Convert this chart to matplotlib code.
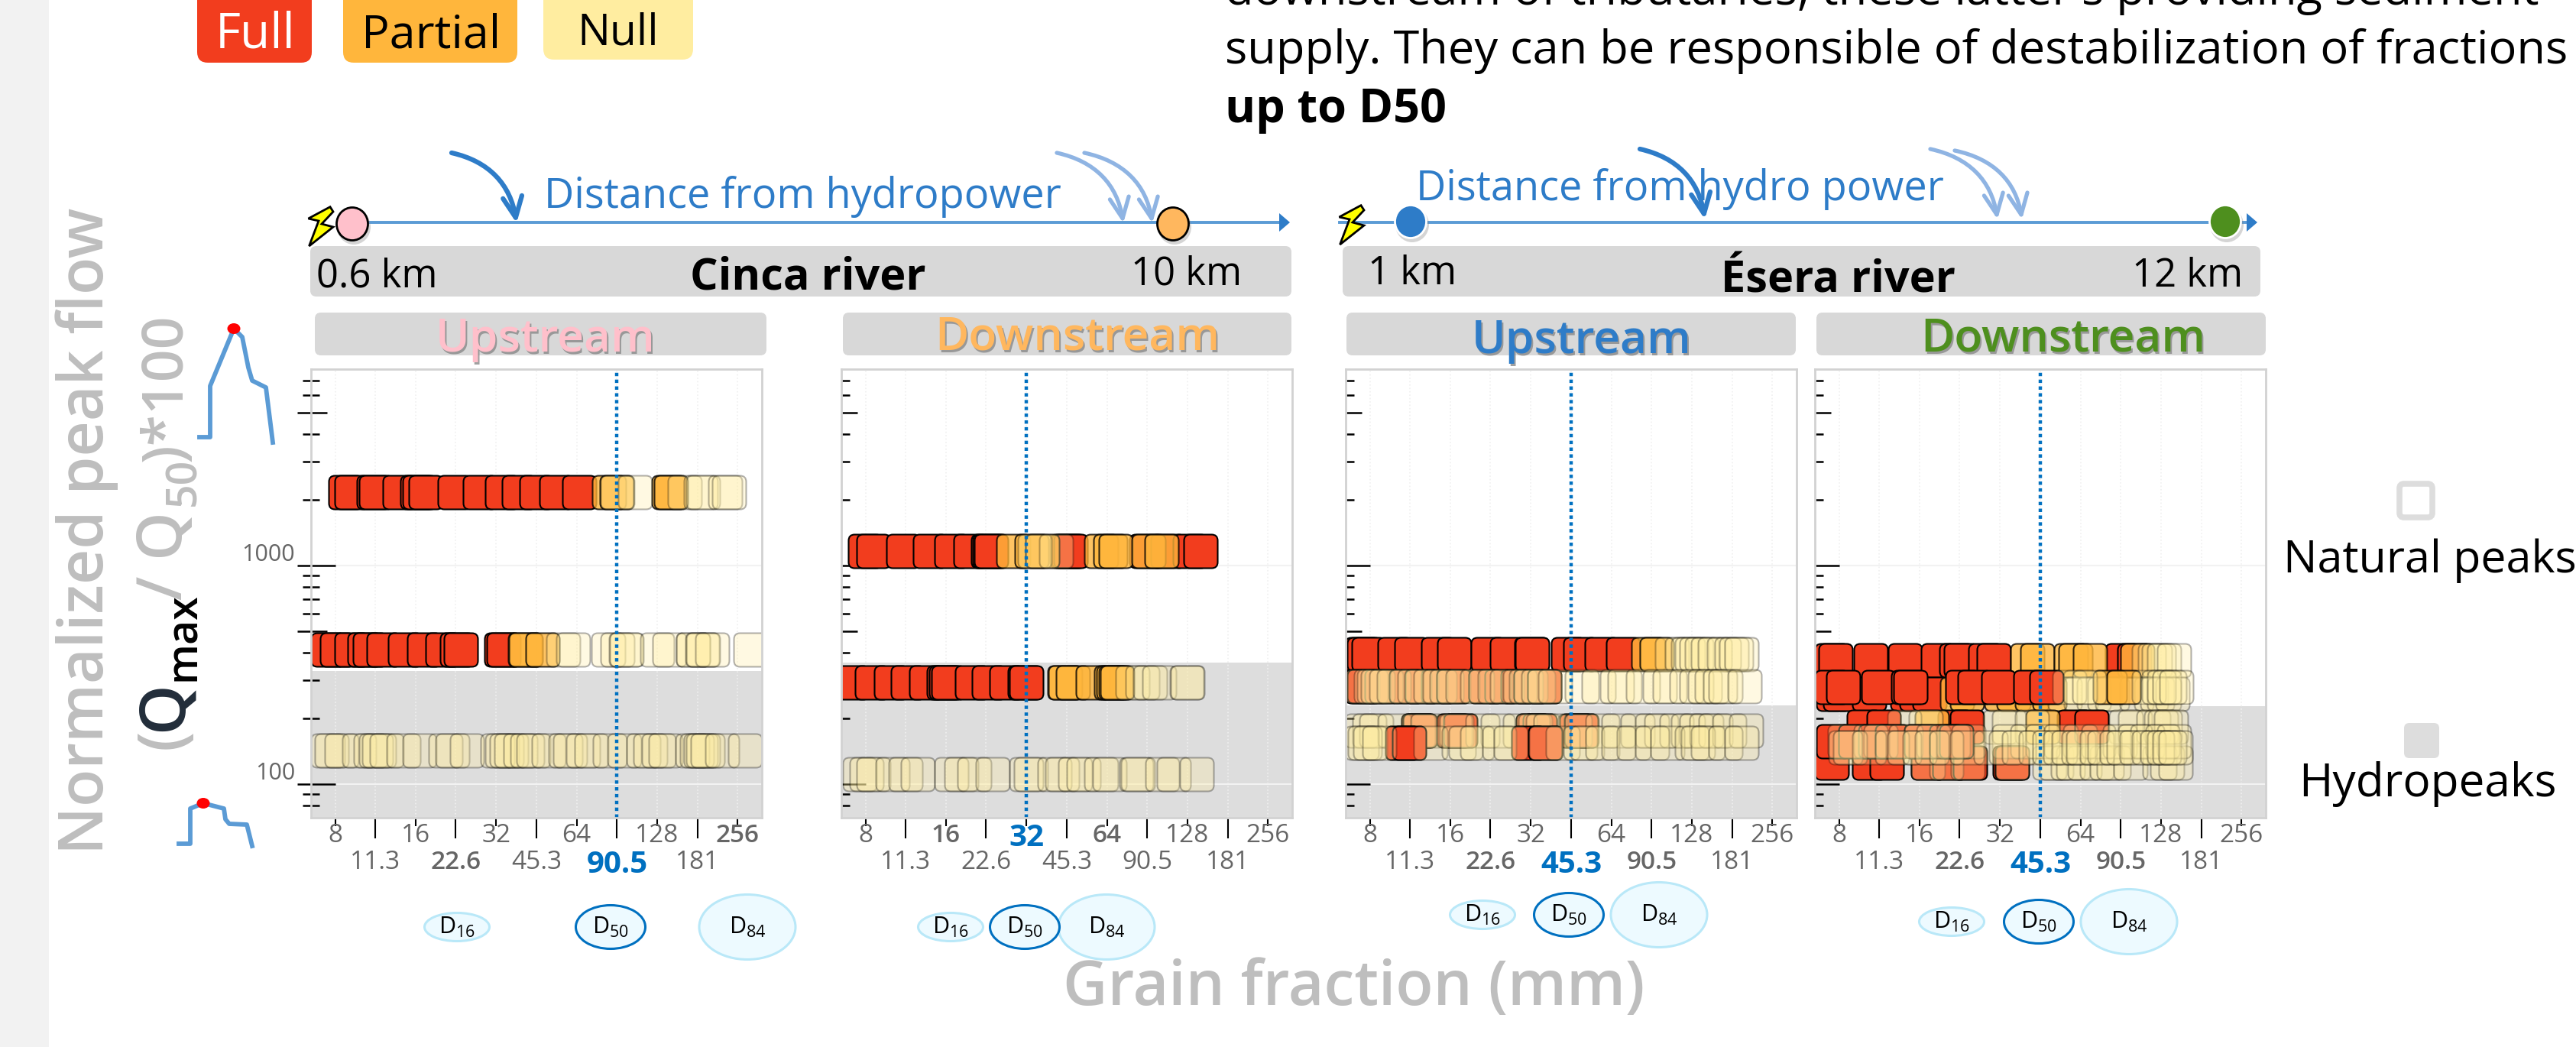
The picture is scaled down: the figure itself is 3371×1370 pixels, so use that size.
import numpy as np
import matplotlib
matplotlib.use("Agg")
import matplotlib.pyplot as plt
from matplotlib.path import Path
from matplotlib.patches import FancyBboxPatch, Ellipse, Polygon, FancyArrowPatch, Rectangle

plt.rcParams['font.family'] = ['Open Sans', 'DejaVu Sans']
plt.rcParams['mathtext.default'] = 'regular'

# --- data: x is log2(grain size in mm), y is normalized peak flow ---
major_labels = ['8', '16', '32', '64', '128', '256']
half_labels = ['11.3', '22.6', '45.3', '90.5', '181']
y_minor = [80, 90, 200, 300, 400, 600, 700, 800, 900, 2000, 3000, 4000, 6000, 7000]
y_long = [500, 5000]
y_decade = [100, 1000]

# rows are listed in drawing order
cinca_up_y = [2170, 414, 142]
cinca_up_full = [
    [3.13, 3.20, 3.48, 3.51, 3.80, 4.02, 4.05, 4.12, 4.48, 4.80, 5.07, 5.28, 5.50, 5.75, 6.03],
    [2.91, 3.02, 3.20, 3.36, 3.43, 3.60, 3.87, 4.10, 4.33, 4.51, 4.56, 5.06, 5.09],
    [],
]
cinca_up_partial = [
    [6.40, 6.50, 7.14, 7.17],
    [5.36, 5.37, 5.58],
    [],
]
cinca_up_null = [
    [6.51, 6.72, 7.34, 7.54, 7.57, 7.84, 7.89],
    [5.83, 5.96, 6.39, 6.51, 6.61, 6.62, 7.00, 7.15, 7.45, 7.45, 7.56, 7.57, 7.68, 8.16],
    [2.91, 2.96, 3.08, 3.30, 3.44, 3.51, 3.54, 3.64, 3.85, 4.05, 4.37, 4.46, 4.64, 5.02,
     5.07, 5.13, 5.19, 5.30, 5.39, 5.46, 5.65, 5.86, 5.92, 6.08, 6.18, 6.41, 6.59, 6.83, 6.91,
     7.02, 7.10, 7.44, 7.49, 7.54, 7.57, 7.63, 7.81, 8.09],
]

cinca_down_y = [1168, 292, 111]
cinca_down_full = [
    [2.99, 3.10, 3.47, 3.80, 4.07, 4.30, 4.52, 4.54, 4.56, 5.50, 5.52, 5.55, 6.49, 6.75, 7.03, 7.16],
    [2.83, 3.08, 3.32, 3.53, 3.75, 3.97, 4.00, 4.03, 4.32, 4.53, 4.75, 4.98, 5.00],
    [],
]
cinca_down_partial = [
    [4.84, 5.06, 5.20, 5.93, 6.04, 6.11, 6.52, 6.68],
    [5.47, 5.48, 5.58, 5.82, 6.05, 6.08, 6.11, 6.13],
    [],
]
cinca_down_null = [
    [5.10, 5.37],
    [6.32, 6.44, 6.53, 6.65, 6.99, 7.00],
    [2.93, 3.01, 3.10, 3.34, 3.50, 3.65, 4.07, 4.19, 4.35, 4.58, 5.00, 5.05, 5.35, 5.44,
     5.60, 5.71, 5.93, 6.03, 6.36, 6.38, 6.69, 6.83, 7.11],
]

esera_up_y = [393, 280, 176, 155]
esera_up_full = [
    [2.90, 2.93, 2.98, 3.31, 3.52, 3.85, 4.05, 4.47, 4.70, 5.01, 5.02, 5.46, 5.61, 5.88, 6.15],
    [2.90, 2.93, 3.15, 3.45, 3.65, 3.85, 4.04, 4.44, 4.64, 4.84, 5.00, 5.17],
    [3.60, 3.62, 4.04, 4.12, 5.03, 5.11, 5.57, 5.62],
    [3.40, 3.49, 4.97, 5.18],
]
esera_up_partial = [
    [6.46, 6.56],
    [],
    [],
    [],
]
esera_up_null = [
    [6.75, 6.88, 6.95, 7.00, 7.06, 7.12, 7.20, 7.28, 7.40, 7.49, 7.55, 7.62],
    [2.91, 3.01, 3.05, 3.10, 3.20, 3.30, 3.45, 3.55, 3.64, 3.75, 3.87, 3.95, 4.04, 4.15, 4.33, 4.44,
     4.55, 4.70, 4.86, 4.94, 5.00, 5.09, 5.17, 5.30, 5.63, 5.84, 6.07, 6.16, 6.39, 6.60, 6.72, 6.93,
     7.06, 7.16, 7.25, 7.35, 7.42, 7.65],
    [2.90, 2.99, 3.08, 3.31, 3.60, 3.62, 3.72, 4.06, 4.08, 4.40, 4.59, 4.86, 5.03, 5.05, 5.15, 5.24,
     5.55, 5.63, 5.89, 6.09, 6.33, 6.51, 6.62, 6.81, 6.95, 7.06, 7.18, 7.29, 7.46, 7.67],
    [2.90, 2.94, 3.00, 3.12, 3.75, 4.10, 4.19, 4.33, 4.61, 4.75, 5.19, 5.40, 5.61, 5.70,
     5.89, 6.09, 6.28, 6.51, 6.70, 7.00, 7.08, 7.20, 7.42, 7.62],
]

esera_down_y = [369, 259, 279, 125, 183, 157, 147]
esera_down_full = [
    [2.91, 2.96, 3.39, 3.82, 4.23, 4.46, 4.51, 4.82, 4.92, 6.52, 6.67],
    [2.93, 3.01, 3.37, 3.85, 3.96, 4.12],
    [2.91, 3.05, 3.49, 3.86, 3.89, 4.53, 4.68, 4.98, 5.38, 5.58],
    [2.91, 3.37, 3.59, 4.10, 4.37, 4.63, 5.12, 5.15],
    [3.31, 3.55, 4.44, 4.59, 5.92, 6.14],
    [2.93, 3.20, 3.45, 3.66, 4.02, 4.33, 4.46],
    [],
]
esera_down_partial = [
    [5.34, 5.46, 5.88, 5.94, 6.12, 6.71],
    [4.47, 4.59, 5.02, 5.17, 5.40, 5.61],
    [6.36, 6.53],
    [],
    [4.15, 5.53],
    [],
    [],
]
esera_down_null = [
    [6.85, 6.92, 6.97, 7.04, 7.16],
    [5.80, 6.00, 6.16, 6.30, 6.39, 6.70, 6.88, 6.95, 7.04, 7.14],
    [5.86, 5.99, 6.11, 6.85, 6.97, 7.04, 7.10, 7.19],
    [4.10, 4.33, 4.60, 5.15, 5.61, 5.70, 5.84, 5.91, 6.05, 6.20, 6.33, 6.41, 6.62, 6.98, 7.08, 7.18],
    [3.81, 4.08, 5.00, 5.11, 5.40, 6.56, 6.68, 6.90, 7.00, 7.05, 7.12],
    [3.07, 3.39, 3.52, 3.83, 4.02, 4.17, 4.42, 4.61, 5.11, 5.34, 5.53, 5.76, 5.99, 6.22,
     6.49, 6.68, 6.83, 7.02, 7.16],
    [3.08, 3.14, 3.37, 3.66, 3.81, 4.00, 4.15, 4.33, 4.59, 4.88, 5.07, 5.23, 5.44, 5.61,
     5.75, 5.85, 5.97, 6.03, 6.20, 6.30, 6.45, 6.53, 6.70, 6.85, 6.95, 7.04, 7.10, 7.18],
]

d50_mm = ['90.5', '32', '45.3', '45.3']
bold_labels = [['22.6', '256'], ['16', '64'], ['22.6', '90.5'], ['22.6', '90.5']]
hydro_limit = [329, 360, 230, 228]

# --- layout, pixels of the 3371x1370 picture ---
W, H = 3371, 1370
panel_x = [407, 1101, 1761, 2375]
panel_w = 590
panel_top, panel_bottom = 483, 1070
xlim = (2.70, 8.30)
ylim = (70.2, 7920)

RED, ORANGE, YELLOW = '#F23D1E', '#FFB63C', '#FFEDA0'
GREY_TXT = '#BEBEBE'
TICK_TXT = '#666666'
BLUE = '#0070C0'
LINE_BLUE = '#2E7CC8'
PALE_BLUE = '#8FB4E3'
BAR_GREY = '#D8D8D8'


def rounded_square(r=0.36):
    k = 1 - r
    v = [(-k, -1), (k, -1), (1, -1), (1, -k), (1, k), (1, 1), (k, 1), (-k, 1), (-1, 1),
         (-1, k), (-1, -k), (-1, -1), (-k, -1), (-k, -1)]
    c = [Path.MOVETO, Path.LINETO, Path.CURVE3, Path.CURVE3, Path.LINETO, Path.CURVE3, Path.CURVE3,
         Path.LINETO, Path.CURVE3, Path.CURVE3, Path.LINETO, Path.CURVE3, Path.CURVE3, Path.CLOSEPOLY]
    return Path(v, c)


fig = plt.figure(figsize=(W / 100, H / 100), dpi=100)
bg = fig.add_axes([0, 0, 1, 1])
bg.set_xlim(0, W)
bg.set_ylim(H, 0)
bg.axis('off')
bg.set_zorder(0)

MARK = rounded_square()


def T(x, y, s, size, color='black', weight='normal', ha='left', **kw):
    return bg.text(x, y, s, fontsize=size, color=color, fontweight=weight, ha=ha, va='baseline', **kw)


def bar(x0, x1, y0, y1, color=BAR_GREY, rad=8, **kw):
    bg.add_patch(FancyBboxPatch((x0 + rad, y0 + rad), x1 - x0 - 2 * rad, y1 - y0 - 2 * rad,
                                boxstyle=f'round,pad={rad},rounding_size={rad}',
                                fc=color, ec='none', **kw))


def draw_panel(i, rows_y, full, partial, null):
    x0 = panel_x[i]
    ax = fig.add_axes([x0 / W, 1 - panel_bottom / H, panel_w / W, (panel_bottom - panel_top) / H])
    ax.set_zorder(2)
    ax.set_yscale('log')
    ax.set_xlim(*xlim)
    ax.set_ylim(*ylim)
    ax.minorticks_off()
    ax.set_yticks([])
    ax.axhspan(ylim[0], hydro_limit[i], color='#DDDDDD', lw=0, zorder=0.2)
    for s in ax.spines.values():
        s.set_color('#D2D2D2')
        s.set_linewidth(2)
        s.set_zorder(6)

    maj = [np.log2(float(v)) for v in major_labels]
    hlf = [np.log2(float(v)) for v in half_labels]
    ax.set_xticks(maj)
    ax.set_xticklabels(major_labels)
    ax.set_xticks(hlf, minor=True)
    ax.set_xticklabels(half_labels, minor=True)
    ax.tick_params(axis='x', which='major', length=8, width=1.5, pad=-3, labelsize=24, labelcolor=TICK_TXT)
    ax.tick_params(axis='x', which='minor', length=19.5, width=1.5, pad=10.5, labelsize=24, labelcolor=TICK_TXT)
    for lab in ax.get_xticklabels() + ax.get_xticklabels(minor=True):
        if lab.get_text() == d50_mm[i]:
            lab.set_color(BLUE)
            lab.set_fontweight('bold')
            lab.set_fontsize(29)
        elif lab.get_text() in bold_labels[i]:
            lab.set_fontweight('semibold')
    ax.set_axisbelow(True)
    ax.grid(True, axis='x', which='both', color='#F0F0F0', ls=':', lw=1.2)
    for v in y_decade:
        ax.axhline(v, color='#F2F2F2', lw=1.5, zorder=0.5)

    # y ticks run across the frame on the first panel, only inside on the others
    left_short = -11 / panel_w if i == 0 else 0
    left_long = -18 / panel_w if i == 0 else 0
    tr = ax.get_yaxis_transform()
    ax.hlines(y_minor, left_short, 11 / panel_w, transform=tr, color='black', lw=1.8, zorder=2, clip_on=False)
    ax.hlines(y_long, left_long, 21 / panel_w, transform=tr, color='black', lw=1.8, zorder=2, clip_on=False)
    ax.hlines(y_decade, left_long, 31.5 / panel_w, transform=tr, color='black', lw=1.8, zorder=2, clip_on=False)
    if i == 0:
        for v in y_decade:
            ax.annotate(str(v), xy=(0, v), xycoords=tr, xytext=(-21, 14), textcoords='offset pixels',
                        ha='right', va='center', fontsize=22, color=TICK_TXT, annotation_clip=False)

    s = (44 * 0.72) ** 2
    for n, yv in enumerate(rows_y):
        z = 3 + n * 0.1
        if full[n]:
            ax.scatter(full[n], [yv] * len(full[n]), marker=MARK, s=s, c=RED, edgecolors='black',
                       linewidths=1.5, zorder=z)
        if partial[n]:
            ax.scatter(partial[n], [yv] * len(partial[n]), marker=MARK, s=s, c=ORANGE, edgecolors='black',
                       linewidths=1.5, alpha=0.8, zorder=z + 0.01)
        if null[n]:
            ax.scatter(null[n], [yv] * len(null[n]), marker=MARK, s=s, c=YELLOW, edgecolors='black',
                       linewidths=1.5, alpha=0.3, zorder=z + 0.02)
    ax.axvline(np.log2(float(d50_mm[i])), color=BLUE, lw=3.2, ls=(0, (1, 1)), zorder=5)
    return ax


draw_panel(0, cinca_up_y, cinca_up_full, cinca_up_partial, cinca_up_null)
draw_panel(1, cinca_down_y, cinca_down_full, cinca_down_partial, cinca_down_null)
draw_panel(2, esera_up_y, esera_up_full, esera_up_partial, esera_up_null)
draw_panel(3, esera_down_y, esera_down_full, esera_down_partial, esera_down_null)

# --- left strip and axis titles ---
bg.add_patch(Rectangle((0, 0), 64, H, fc='#F2F2F2', ec='none'))
T(135, 1118, 'Normalized peak flow', 58, GREY_TXT, 'semibold', rotation=90, rotation_mode='anchor')
for y, s, size, col, xb in [(980, '(', 60, GREY_TXT, 238), (957, 'Q', 60, '#222D3A', 238), (891, 'max', 40, 'black', 255),
                            (785, '/ Q', 58, GREY_TXT, 238), (662, '50', 40, GREY_TXT, 255), (604, ')*100', 54, GREY_TXT, 238)]:
    T(xb, y, s, size, col, 'semibold', rotation=90, rotation_mode='anchor')
T(1772, 1315, 'Grain fraction (mm)', 58, GREY_TXT, 'semibold', ha='center')

# small hydrographs
bg.plot([261, 275, 275, 306, 317, 325, 330, 348, 357], [572, 572, 505, 430, 441, 481, 498, 507, 579],
        color='#5B9BD5', lw=4.2, solid_joinstyle='round')
bg.add_patch(Ellipse((306, 430), 17, 14, fc='red', ec='none', zorder=4))
bg.plot([234, 249, 249, 266, 293, 295, 300, 323, 330], [1104, 1104, 1058, 1051, 1058, 1072, 1078, 1079, 1107],
        color='#5B9BD5', lw=4.2, solid_joinstyle='round')
bg.add_patch(Ellipse((266, 1051), 17, 14, fc='red', ec='none', zorder=4))

# --- colour legend and note, cut by the top edge ---
bar(258, 408, -20, 82, RED, 14)
bar(449, 677, -20, 82, ORANGE, 14)
bar(711, 907, -20, 78, YELLOW, 14)
T(334, 62, 'Full', 46, 'white', ha='center')
T(564, 62, 'Partial', 44, ha='center')
T(809, 58, 'Null', 41, ha='center')

T(1603, 6, "downstream of tributaries, these latter's providing sediment", 44.2)
T(1603, 83, 'supply. They can be responsible of destabilization of fractions', 44.2)
T(1603, 160, 'up to D50', 44, weight='bold')


# --- river headers ---
def bolt(dx, dy):
    xs = np.array([432, 403.5, 417, 404.5, 436, 421, 436]) + dx
    ys = np.array([270.7, 286, 289, 322, 297, 293, 277]) + dy
    bg.add_patch(Polygon(np.column_stack([xs, ys]), closed=True, fc='#FFFF00', ec='black', lw=2, zorder=4))


def curved(x0, y0, x1, y1, color, lw):
    p = Path([(x0, y0), (x0 + 0.58 * (x1 - x0), y0 + 0.12 * (y1 - y0)), (x1 - 8, y0 + 0.45 * (y1 - y0)), (x1, y1)],
             [Path.MOVETO, Path.CURVE4, Path.CURVE4, Path.CURVE4])
    bg.add_patch(FancyArrowPatch(path=p, arrowstyle='->,head_length=13,head_width=6', mutation_scale=1.5,
                                 color=color, lw=lw, zorder=3))


def header(line_x, line_y, title, title_x, title_base, bar_x, text_dist, dist_x, dist_base):
    bg.plot(line_x, [line_y, line_y], color='#5B9BD5', lw=2.8, zorder=2)
    bg.add_patch(Polygon([(line_x[1] - 2, line_y - 12), (line_x[1] + 12, line_y), (line_x[1] - 2, line_y + 12)],
                         closed=True, fc=LINE_BLUE, ec='none', zorder=2))
    bar(bar_x[0], bar_x[1], 322, 388)
    T(title_x, title_base, title, 41.5, weight='bold', ha='center')
    T(dist_x, dist_base, text_dist, 39, LINE_BLUE)


def dot(x, y, fc, ec):
    bg.add_patch(Ellipse((x + 2, y + 4), 44, 46, fc='#888888', ec='none', alpha=0.35, zorder=3))
    bg.add_patch(Ellipse((x, y), 41, 43, fc=fc, ec=ec, lw=2, zorder=4))


def sub_bar(x0, x1, label, label_x, base, color):
    bar(x0, x1, 409, 465)
    T(label_x + 2, base + 3, label, 43.5, '#888888', 'semibold', ha='center', alpha=0.8)
    T(label_x, base, label, 43.5, color, 'semibold', ha='center')


header((477, 1676), 291, 'Cinca river', 1057, 378, (406, 1690), 'Distance from hydropower', 712, 272)
bolt(0, 0)
dot(461, 293, '#FFC0CB', 'black')
dot(1535, 293, '#FFB75E', 'black')
curved(591, 200, 676, 292, LINE_BLUE, 4.5)
curved(1383, 200, 1470, 292, PALE_BLUE, 3.8)
curved(1419, 200, 1508, 292, PALE_BLUE, 3.8)
T(414, 375, '0.6 km', 36.5)
T(1480, 372, '10 km', 36.5)
sub_bar(412, 1003, 'Upstream', 714, 460, '#FFC0CB')
sub_bar(1103, 1690, 'Downstream', 1410, 457, '#FFB75E')

header((1753, 2942), 291, 'Ésera river', 2406, 382, (1757, 2958), 'Distance from hydro power', 1853, 262)
bolt(1349, -2)
dot(1846, 290, LINE_BLUE, 'white')
dot(2912, 290, '#4E8F1E', 'white')
curved(2146, 195, 2231, 287, LINE_BLUE, 4.5)
curved(2526, 195, 2614, 287, PALE_BLUE, 3.8)
curved(2558, 197, 2646, 287, PALE_BLUE, 3.8)
T(1790, 372, '1 km', 36.5)
T(2790, 375, '12 km', 36.5)
sub_bar(1762, 2350, 'Upstream', 2070, 462, LINE_BLUE)
sub_bar(2377, 2965, 'Downstream', 2700, 459, '#4E8F1E')

# --- D16 / D50 / D84 bubbles ---
bubble_cx = [(598, 799, 978), (1244, 1341, 1448), (1940, 2053, 2171), (2554, 2668, 2786)]
bubble_cy = [1213, 1213, 1197, 1206]
bubble_w = (85, 91, 126)
bubble_h = (37, 57, 85)
bubble_txt = ('D$_{16}$', 'D$_{50}$', 'D$_{84}$')
for cxs, cy in zip(bubble_cx, bubble_cy):
    for k, cx in enumerate(cxs):
        ec = BLUE if k == 1 else '#B9E8F8'
        bg.add_patch(Ellipse((cx, cy), bubble_w[k], bubble_h[k], fc='#EDFAFF', ec=ec, lw=2.2, zorder=3 + (k == 1)))
        bg.text(cx, cy, bubble_txt[k], fontsize=22, ha='center', va='center', zorder=5)

# --- peak type legend ---
bg.add_patch(FancyBboxPatch((3144, 637), 35, 36, boxstyle='round,pad=4,rounding_size=6', fc='white', ec='#DDDDDD', lw=5.5))
bg.add_patch(FancyBboxPatch((3152, 952), 34, 34, boxstyle='round,pad=6,rounding_size=7', fc='#DDDDDD', ec='none'))
T(2988, 749, 'Natural peaks', 42.6)
T(3008, 1042, 'Hydropeaks', 43.5)

fig.savefig('out.png', dpi=100)
